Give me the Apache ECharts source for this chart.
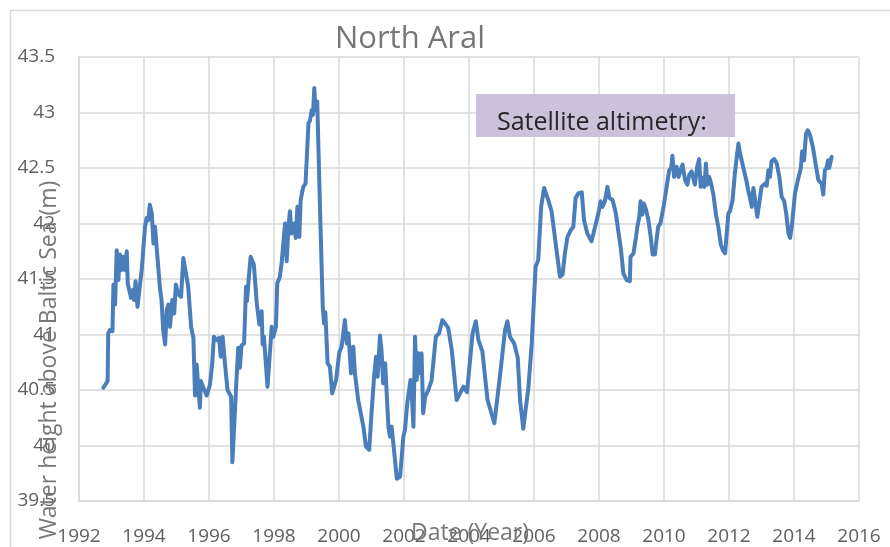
<!DOCTYPE html>
<html>
<head>
<meta charset="utf-8">
<title>North Aral</title>
<script src="https://cdn.jsdelivr.net/npm/echarts@6/dist/echarts.min.js"></script>
<style>
  html, body { margin: 0; padding: 0; background: #fff; }
  #chart { width: 890px; height: 547px; }
</style>
</head>
<body>
<div id="chart"></div>
<script>
// 数据：年份与水位 (m)
const years = [
  1992.75, 1992.88, 1992.90, 1992.95, 1993.03, 1993.06, 1993.11, 1993.16, 1993.21, 1993.26,
  1993.31, 1993.36, 1993.42, 1993.47, 1993.50, 1993.60, 1993.65, 1993.70, 1993.74, 1993.80,
  1993.88, 1993.93, 1994.03, 1994.08, 1994.13, 1994.18, 1994.24, 1994.29, 1994.34, 1994.39,
  1994.49, 1994.54, 1994.59, 1994.65, 1994.70, 1994.75, 1994.80, 1994.87, 1994.93, 1994.98,
  1995.06, 1995.14, 1995.21, 1995.28, 1995.36, 1995.45, 1995.52, 1995.57, 1995.62, 1995.67,
  1995.72, 1995.75, 1995.83, 1995.93, 1996.03, 1996.10, 1996.15, 1996.24, 1996.31, 1996.36,
  1996.42, 1996.49, 1996.57, 1996.68, 1996.72, 1996.85, 1996.90, 1996.95, 1997.00, 1997.08,
  1997.14, 1997.17, 1997.21, 1997.28, 1997.32, 1997.38, 1997.47, 1997.55, 1997.62, 1997.65,
  1997.69, 1997.80, 1997.93, 1997.98, 1998.06, 1998.10, 1998.18, 1998.24, 1998.29, 1998.34,
  1998.39, 1998.44, 1998.49, 1998.54, 1998.62, 1998.67, 1998.72, 1998.78, 1998.82, 1998.90,
  1998.97, 1999.06, 1999.11, 1999.16, 1999.20, 1999.24, 1999.28, 1999.33, 1999.42, 1999.50,
  1999.54, 1999.58, 1999.65, 1999.72, 1999.79, 1999.91, 2000.01, 2000.08, 2000.18, 2000.24,
  2000.29, 2000.37, 2000.44, 2000.49, 2000.59, 2000.75, 2000.83, 2000.93, 2001.00, 2001.08,
  2001.14, 2001.19, 2001.26, 2001.31, 2001.36, 2001.42, 2001.52, 2001.57, 2001.62, 2001.78,
  2001.88, 2001.98, 2002.03, 2002.10, 2002.15, 2002.20, 2002.24, 2002.29, 2002.34, 2002.39,
  2002.44, 2002.49, 2002.54, 2002.59, 2002.65, 2002.75, 2002.85, 2002.98, 2003.08, 2003.18,
  2003.36, 2003.47, 2003.62, 2003.83, 2003.94, 2004.11, 2004.21, 2004.29, 2004.41, 2004.57,
  2004.78, 2004.95, 2005.11, 2005.18, 2005.26, 2005.39, 2005.50, 2005.57, 2005.67, 2005.83,
  2005.93, 2006.05, 2006.13, 2006.22, 2006.31, 2006.44, 2006.54, 2006.68, 2006.80, 2006.88,
  2006.95, 2007.03, 2007.13, 2007.21, 2007.28, 2007.36, 2007.47, 2007.54, 2007.64, 2007.77,
  2007.88, 2007.98, 2008.05, 2008.11, 2008.18, 2008.26, 2008.32, 2008.42, 2008.52, 2008.59,
  2008.67, 2008.75, 2008.85, 2008.95, 2008.97, 2009.06, 2009.14, 2009.18, 2009.24, 2009.28,
  2009.33, 2009.38, 2009.45, 2009.52, 2009.59, 2009.65, 2009.72, 2009.77, 2009.82, 2009.89,
  2009.98, 2010.08, 2010.16, 2010.22, 2010.26, 2010.31, 2010.39, 2010.45, 2010.51, 2010.57,
  2010.65, 2010.72, 2010.78, 2010.85, 2010.95, 2011.02, 2011.08, 2011.13, 2011.19, 2011.24,
  2011.29, 2011.33, 2011.39, 2011.45, 2011.52, 2011.60, 2011.67, 2011.75, 2011.81, 2011.88,
  2011.93, 2011.98, 2012.03, 2012.11, 2012.18, 2012.26, 2012.29, 2012.34, 2012.40, 2012.46,
  2012.54, 2012.59, 2012.67, 2012.70, 2012.75, 2012.80, 2012.87, 2012.93, 2013.00, 2013.11,
  2013.16, 2013.21, 2013.26, 2013.31, 2013.39, 2013.47, 2013.55, 2013.62, 2013.70, 2013.76,
  2013.83, 2013.88, 2013.93, 2014.03, 2014.11, 2014.16, 2014.21, 2014.25, 2014.31, 2014.37,
  2014.42, 2014.49, 2014.58, 2014.68, 2014.75, 2014.85, 2014.90, 2014.95, 2015.00, 2015.05,
  2015.08, 2015.16
];
const levels = [
  40.52, 40.58, 41.01, 41.04, 41.03, 41.45, 41.27, 41.76, 41.49, 41.72,
  41.58, 41.70, 41.58, 41.75, 41.46, 41.33, 41.40, 41.31, 41.48, 41.25,
  41.46, 41.58, 41.97, 42.05, 42.03, 42.17, 42.09, 41.82, 41.97, 41.78,
  41.42, 41.31, 41.04, 40.91, 41.22, 41.27, 41.07, 41.31, 41.19, 41.45,
  41.36, 41.34, 41.69, 41.57, 41.43, 41.07, 40.97, 40.45, 40.73, 40.53,
  40.34, 40.58, 40.52, 40.45, 40.55, 40.74, 40.98, 40.95, 40.97, 40.80,
  40.98, 40.74, 40.50, 40.44, 39.85, 40.62, 40.88, 40.70, 40.90, 40.92,
  41.43, 41.30, 41.46, 41.70, 41.70, 41.63, 41.28, 41.09, 41.21, 40.91,
  40.98, 40.53, 41.07, 40.98, 41.07, 41.46, 41.52, 41.66, 41.65, 42.00,
  41.66, 41.95, 42.11, 41.91, 42.00, 41.87, 42.15, 41.88, 42.21, 42.33,
  42.36, 42.90, 42.93, 43.02, 42.98, 43.22, 43.02, 43.10, 42.09, 41.25,
  41.10, 41.20, 40.74, 40.71, 40.47, 40.59, 40.84, 40.89, 41.13, 40.92,
  41.01, 40.65, 40.89, 40.65, 40.41, 40.17, 39.99, 39.96, 40.29, 40.62,
  40.80, 40.62, 40.99, 40.85, 40.56, 40.74, 40.17, 40.08, 40.17, 39.70,
  39.72, 40.08, 40.14, 40.38, 40.38, 40.59, 40.45, 40.17, 40.98, 40.59,
  40.83, 40.65, 40.83, 40.29, 40.44, 40.50, 40.59, 40.98, 41.01, 41.13,
  41.06, 40.86, 40.41, 40.53, 40.48, 41.01, 41.12, 40.95, 40.85, 40.41,
  40.20, 40.62, 41.04, 41.12, 40.98, 40.92, 40.79, 40.41, 40.15, 40.53,
  40.92, 41.61, 41.67, 42.15, 42.32, 42.21, 42.11, 41.79, 41.52, 41.54,
  41.73, 41.88, 41.94, 41.97, 42.23, 42.27, 42.28, 42.03, 41.91, 41.84,
  41.97, 42.09, 42.20, 42.15, 42.20, 42.33, 42.23, 42.21, 42.09, 41.94,
  41.78, 41.55, 41.49, 41.48, 41.70, 41.73, 41.88, 41.97, 42.06, 42.20,
  42.08, 42.18, 42.12, 42.03, 41.88, 41.72, 41.72, 41.85, 41.97, 42.00,
  42.14, 42.33, 42.48, 42.50, 42.61, 42.42, 42.51, 42.42, 42.48, 42.53,
  42.39, 42.35, 42.44, 42.47, 42.35, 42.51, 42.58, 42.33, 42.41, 42.33,
  42.54, 42.35, 42.42, 42.36, 42.26, 42.08, 41.97, 41.81, 41.76, 41.73,
  41.91, 42.09, 42.11, 42.21, 42.45, 42.65, 42.72, 42.63, 42.62, 42.48,
  42.38, 42.30, 42.20, 42.15, 42.32, 42.22, 42.06, 42.18, 42.33, 42.36,
  42.34, 42.48, 42.42, 42.56, 42.58, 42.54, 42.42, 42.24, 42.20, 42.09,
  41.91, 41.87, 41.97, 42.27, 42.38, 42.39, 42.50, 42.65, 42.57, 42.81,
  42.84, 42.80, 42.69, 42.51, 42.39, 42.36, 42.26, 42.48, 42.50, 42.57,
  42.50, 42.60
];
const xTicks = { min: 1992, max: 2016, step: 2 };
const yTicks = { min: 39.5, max: 43.5, step: 0.5 };

const FONT = '"Open Sans", sans-serif';
const gridColor = '#d9d9d9';
const textGray = '#5f5f5f';

const chart = echarts.init(document.getElementById('chart'));
const option = {
  backgroundColor: '#fff',
  animation: false,
  title: {
    text: 'North Aral',
    left: 405,
    top: 19,
    textAlign: 'center',
    textStyle: { fontFamily: FONT, fontSize: 31, fontWeight: 'normal', color: '#777' }
  },
  grid: { left: 79, right: 31, top: 57, bottom: 46, containLabel: false, outerBoundsMode: 'none' },
  xAxis: {
    type: 'value',
    min: xTicks.min,
    max: xTicks.max,
    interval: xTicks.step,
    axisLine: { lineStyle: { color: gridColor, width: 1.5 } },
    axisTick: { show: false },
    splitLine: { show: true, lineStyle: { color: gridColor, width: 1.5 } },
    axisLabel: {
      fontFamily: FONT, fontSize: 19, color: textGray, margin: 26,
      formatter: v => String(v)
    }
  },
  yAxis: {
    type: 'value',
    min: yTicks.min,
    max: yTicks.max,
    interval: yTicks.step,
    axisLine: { show: true, lineStyle: { color: gridColor, width: 1.5 } },
    axisTick: { show: false },
    splitLine: { show: true, lineStyle: { color: gridColor, width: 1.5 } },
    axisLabel: { fontFamily: FONT, fontSize: 19, color: textGray, margin: 24 }
  },
  graphic: [
    // 图表外框
    {
      type: 'rect',
      shape: { x: 10.5, y: 10.5, width: 900, height: 560 },
      style: { fill: 'none', stroke: gridColor, lineWidth: 1.5 },
      silent: true,
      z: -10
    },
    // 纵轴标题
    {
      type: 'text',
      x: 49,
      y: 360,
      rotation: Math.PI / 2,
      style: {
        text: 'Water height above Baltic Sea (m)',
        fontFamily: FONT,
        fontSize: 23,
        fill: '#777',
        textAlign: 'center',
        textVerticalAlign: 'middle'
      },
      z: 100
    },
    // 横轴标题
    {
      type: 'text',
      x: 470,
      y: 533,
      style: {
        text: 'Date (Year)',
        fontFamily: FONT,
        fontSize: 23,
        fill: '#777',
        textAlign: 'center',
        textVerticalAlign: 'middle'
      },
      z: 100
    },
    // 卫星测高标注
    {
      type: 'rect',
      shape: { x: 476, y: 94, width: 259, height: 43 },
      style: { fill: '#ccc1da' },
      z: 50
    },
    {
      type: 'text',
      x: 497,
      y: 123,
      style: {
        text: 'Satellite altimetry:',
        fontFamily: FONT,
        fontSize: 25,
        fill: '#262626',
        textVerticalAlign: 'middle'
      },
      z: 51
    }
  ],
  series: [
    {
      type: 'line',
      data: years.map((y, i) => [y, levels[i]]),
      showSymbol: false,
      smooth: false,
      lineStyle: { color: '#4a7ebb', width: 4, join: 'round', cap: 'round' },
      z: 10
    }
  ]
};
chart.setOption(option);
</script>
</body>
</html>
